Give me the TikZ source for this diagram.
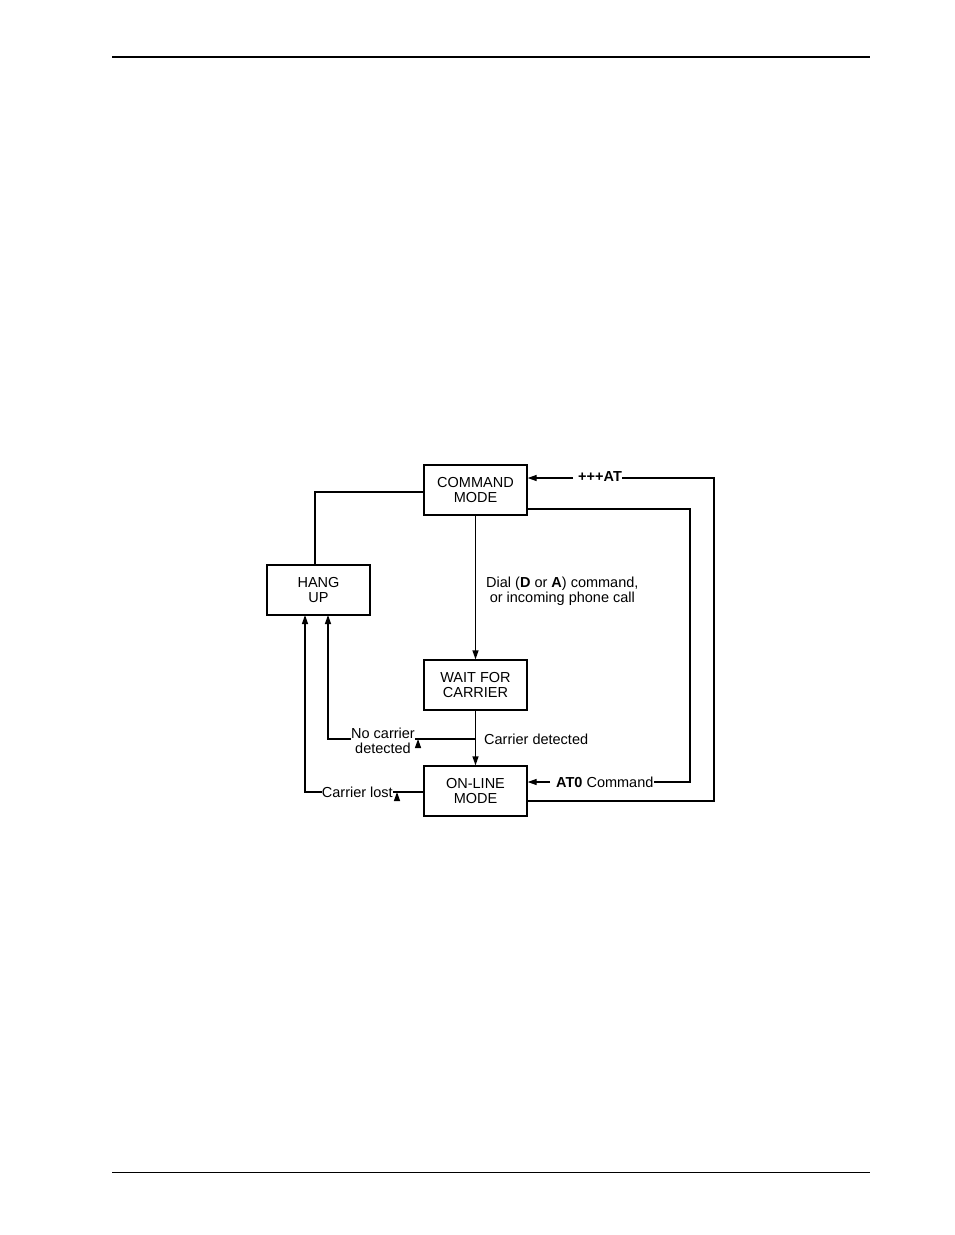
\documentclass[tikz,border=0pt]{standalone}
\usepackage{fontspec}
\setmainfont{Liberation Sans}
\usetikzlibrary{arrows.meta}
\begin{document}
\begin{tikzpicture}[x=1pt,y=-1pt,
  box/.style={draw,line width=1.3pt,minimum width=103pt,minimum height=50pt,inner sep=0pt,align=center,font=\fontsize{14.5}{15}\selectfont},
  lbl/.style={font=\fontsize{14.5}{15.5}\selectfont,inner sep=0pt},
  ln/.style={line width=1.3pt},
  ar/.style={line width=1.3pt,-{Triangle[length=9pt,width=6pt]}}]
\useasboundingbox (0,0) rectangle (954,1235);
\draw[line width=1.8pt] (112,57) -- (870,57);
\draw[line width=0.8pt] (112,1172) -- (870,1172);
\node[box] (cmd) at (475.5,490) {COMMAND\\MODE};
\node[box] (hang) at (318.5,590) {HANG\\UP};
\node[box] (wait) at (475.5,685) {WAIT FOR\\CARRIER};
\node[box] (on) at (475.5,791) {ON-LINE\\MODE};
% hang up to command
\draw[ln] (hang.north -| 315,0) -- (315,492) -- (cmd.west |- 0,492);
% command to wait
\draw[ar] (cmd.south) -- (wait.north);
\node[lbl,anchor=west,align=center] (dial) at (486,591) {Dial (\textbf{D} or \textbf{A}) command,\\or incoming phone call};
% wait to online
\draw[ar] (wait.south) -- (on.north);
\coordinate (br) at (476,739);
\node[lbl,anchor=west] (cd) at (484,739) {Carrier detected};
\node[lbl,align=center] (nc) at (383,741) {No carrier\\detected};
\draw[ar] (br) -- (nc.east |- br) ++(3,0);
\draw[ar] (nc.west |- br) -- (328,739) -- (328,615);
% carrier lost
\node[lbl,anchor=east] (cl) at (393,792) {Carrier lost};
\draw[ar] (on.west |- 0,792) -- (cl.east |- 0,792) ++(4,0);
\draw[ar] (cl.west |- 0,792) -- (305,792) -- (305,615);
% AT0
\node[lbl,anchor=west] (at0) at (556,782) {\textbf{AT0} Command};
\draw[ln] (cmd.east |- 0,509) -- (690,509) -- (690,782) -- (at0.east);
\draw[ar] (550,782) -- (on.east |- 0,782);
% +++AT
\node[lbl,anchor=west] (pat) at (578,477) {\textbf{+++AT}};
\draw[ln] (on.east |- 0,801) -- (714,801) -- (714,478) -- (pat.east |- 0,478) ++(6,0);
\draw[ar] (573,478) -- (cmd.east |- 0,478);
\end{tikzpicture}
\end{document}
